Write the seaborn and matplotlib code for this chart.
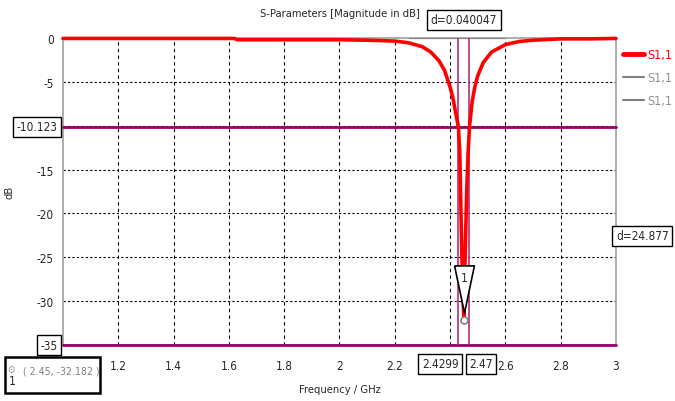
import math
import numpy as np
import pandas as pd
import matplotlib
matplotlib.use("Agg")
import matplotlib.pyplot as plt
import seaborn as sns
from matplotlib.lines import Line2D
from matplotlib.patches import Rectangle
from matplotlib.transforms import offset_copy, blended_transform_factory

############################################################
##### Data
############################################################

freq_ghz = [1.0, 1.2, 1.4, 1.6, 1.62, 1.63, 1.8, 2.0, 2.1, 2.2, 2.25, 2.3, 2.33,
            2.36, 2.38, 2.40, 2.41, 2.42, 2.43, 2.435, 2.44, 2.445, 2.45, 2.455,
            2.46, 2.465, 2.47, 2.48, 2.49, 2.50, 2.52, 2.55, 2.6, 2.65, 2.7, 2.8,
            2.9, 3.0]
s11_db = [-0.05, -0.05, -0.05, -0.05, -0.05, -0.2, -0.2, -0.2, -0.25, -0.35, -0.55,
          -1.0, -1.6, -2.6, -3.7, -5.6, -6.8, -8.5, -10.123, -13.0, -21.0, -28.0,
          -32.182, -24.0, -17.5, -13.2, -10.123, -7.2, -5.5, -4.3, -2.8, -1.6,
          -0.75, -0.4, -0.25, -0.1, -0.1, -0.05]

x_ticks = [1.2, 1.4, 1.6, 1.8, 2.0, 2.2, 2.4, 2.6, 2.8, 3.0]
x_tick_labels = ["1.2", "1.4", "1.6", "1.8", "2", "2.2", "", "2.6", "2.8", "3"]
y_ticks = [0, -5, -10, -15, -20, -25, -30, -35]
y_tick_labels = ["0", "-5", "", "-15", "-20", "-25", "-30", ""]

marker_freq = 2.45
marker_db = -32.182
vline_freqs = [2.429953, 2.47]
hline_dbs = [-10.123, -35]

legend_labels = ["S1,1", "S1,1", "S1,1"]

############################################################
##### Plot
############################################################

sns.set_style("white")
plt.rcParams["font.family"] = ["DejaVu Sans"]
plt.rcParams["font.stretch"] = "condensed"

df = pd.DataFrame({"Frequency": freq_ghz, "S11": s11_db})

fig = plt.figure(figsize=(6.75, 4.02), dpi=100)
ax = fig.add_axes([0.0933, 0.1393, 0.8193, 0.7637])

purple = "#990066"
light_purple = "#b2307a"
fs = 8.5

# grid
for xt in x_ticks[:-1]:
    ax.axvline(xt, color="black", lw=0.8, ls=(0, (3, 3)), zorder=1)
for yt in y_ticks[1:-1]:
    ax.axhline(yt, color="black", lw=0.8, ls=(0, (2, 2)), zorder=1)

# marker lines
for yv in hline_dbs:
    ax.axhline(yv, color=purple, lw=2, zorder=3, clip_on=False)
for xv in vline_freqs:
    ax.axvline(xv, color=light_purple, lw=1.2, zorder=3)

sns.lineplot(data=df, x="Frequency", y="S11", color="red", lw=2.6, ax=ax,
             zorder=4, clip_on=False)

ax.set_xlim(1.0, 3.0)
ax.set_ylim(-35, 0)
ax.set_xticks(x_ticks)
ax.set_xticklabels(x_tick_labels)
ax.set_yticks(y_ticks)
ax.set_yticklabels(y_tick_labels)
ax.tick_params(axis="both", labelsize=fs, length=3, color="#808080")
ax.tick_params(axis="x", pad=7)
ax.set_xlabel("Frequency / GHz", fontsize=8, labelpad=9)
ax.set_ylabel("dB", fontsize=8, labelpad=16)
ax.set_title("S-Parameters [Magnitude in dB]", fontsize=8, pad=16)

for side in ["left", "right", "top", "bottom"]:
    ax.spines[side].set_color("#a0a0a0")
    ax.spines[side].set_linewidth(1.2)

# marker triangle and point
tri = [(-0.42, 1.0), (0.42, 1.0), (0.0, -1.0), (-0.42, 1.0)]
tri_trans = offset_copy(ax.transData, fig=fig, x=0, y=31, units="dots")
ax.plot([marker_freq], [marker_db], marker=tri, markersize=34, color="white",
        markeredgecolor="black", markeredgewidth=1.2, transform=tri_trans,
        zorder=6, clip_on=False)
ax.plot([marker_freq], [marker_db], marker="o", markersize=5, mfc="white",
        mec="#808080", mew=1.2, zorder=7)
ax.annotate("1", (marker_freq, marker_db), xytext=(0, 43), textcoords="offset pixels",
            ha="center", va="center", fontsize=fs, zorder=8)

box = dict(boxstyle="square,pad=0.3", fc="white", ec="black", lw=1)


def trunc(v, n):
    return f"{math.floor(v * 10 ** n) / 10 ** n:g}"


# boxed tick labels
ylab_trans = blended_transform_factory(ax.transAxes, ax.transData)
ax.text(-0.01, hline_dbs[0], f"{hline_dbs[0]:.3f}", transform=ylab_trans, ha="right",
        va="center", fontsize=fs, bbox=box, clip_on=False)
ax.text(-0.01, hline_dbs[1], f"{hline_dbs[1]:d}", transform=ylab_trans, ha="right",
        va="center", fontsize=fs, bbox=box, clip_on=False)
xlab_trans = blended_transform_factory(ax.transData, ax.transAxes)
ax.text(vline_freqs[0], -0.04, trunc(vline_freqs[0], 4), transform=xlab_trans, ha="right",
        va="top", fontsize=fs, bbox=box, clip_on=False)
ax.text(vline_freqs[1], -0.04, trunc(vline_freqs[1], 4), transform=xlab_trans, ha="left",
        va="top", fontsize=fs, bbox=box, clip_on=False)

# delta boxes
d_freq = vline_freqs[1] - vline_freqs[0]
ax.text(np.mean(vline_freqs), 1.06, f"d={d_freq:.6f}", transform=xlab_trans,
        ha="center", va="center", fontsize=fs, bbox=box, clip_on=False)
d_db = hline_dbs[0] - hline_dbs[1]
ax.text(1.0, np.mean(hline_dbs), f"d={d_db:.3f}", transform=ylab_trans,
        ha="left", va="center", fontsize=fs, bbox=box, clip_on=False)
ax.plot([2.25, 2.6], [0, 0], color="black", lw=0.8, zorder=2, clip_on=False)

# marker readout box (bottom left)
fig.patches.append(Rectangle((5 / 675, 8 / 402), 95 / 675, 36 / 402, transform=fig.transFigure,
                             fc="white", ec="black", lw=1.8, zorder=10))
fig.text(11 / 675, 32 / 402, "⊙", fontsize=7, color="#808080", ha="center", va="center",
         zorder=11)
fig.text(12 / 675, 20 / 402, "1", fontsize=fs, ha="center", va="center", zorder=11)
fig.text(61 / 675, 30 / 402, f"( {marker_freq:g}, {marker_db:g} )", fontsize=7.6,
         color="#808080", ha="center", va="center", zorder=11)

# legend
handles = [Line2D([], [], color="red", lw=3.5),
           Line2D([], [], color="#808080", lw=1.5),
           Line2D([], [], color="#808080", lw=1.5)]
leg = fig.legend(handles, legend_labels, loc="upper left", bbox_to_anchor=(623 / 675, 0.877),
                 frameon=False, borderpad=0, borderaxespad=0, handlelength=1.7,
                 handletextpad=0.2, labelspacing=0.8, fontsize=9)
for txt, c in zip(leg.get_texts(), ["red", "#909090", "#909090"]):
    txt.set_color(c)

fig.savefig("out.png", dpi=100)
